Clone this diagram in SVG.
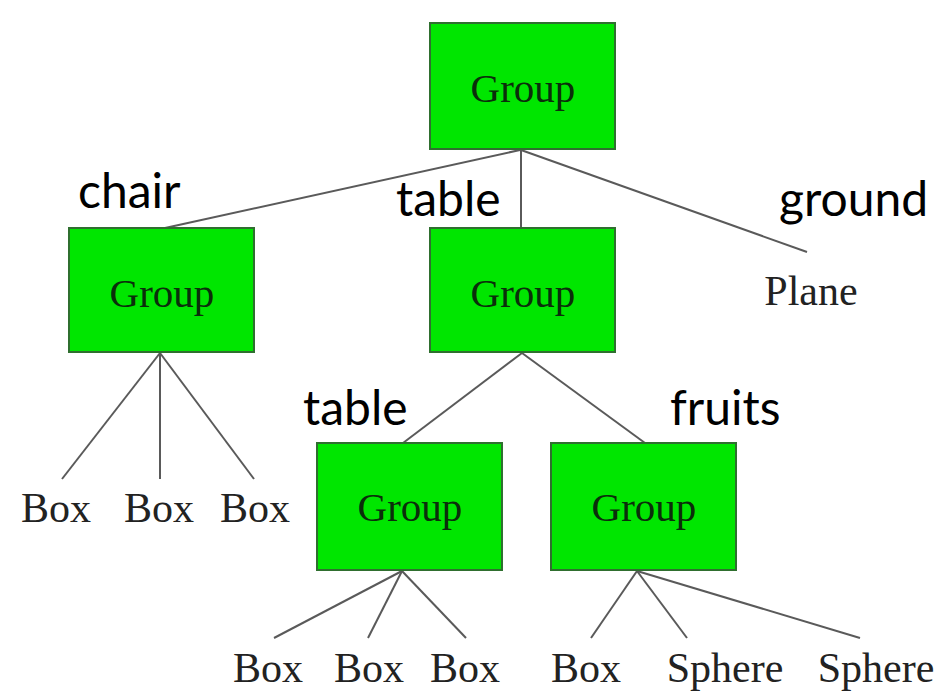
<svg xmlns="http://www.w3.org/2000/svg" width="950" height="694" viewBox="0 0 950 694">
<style>
.box{fill:#00e600;stroke:#2f6f2f;stroke-width:2}
.gt{font-family:"Liberation Serif",serif;font-size:41px;fill:#0b2e0b;text-anchor:middle}
.lt{font-family:"Liberation Serif",serif;font-size:42px;fill:#222;text-anchor:middle}
.lab{font-family:Lato,"Liberation Sans",sans-serif;font-size:48px;fill:#000}
.ln{stroke:#5a5a5a;stroke-width:2;fill:none}
</style>
<rect width="950" height="694" fill="#fff"/>
<g id="connectors">
<line class="ln" x1="520" y1="150" x2="165" y2="228"/>
<line class="ln" x1="521" y1="150" x2="521" y2="228"/>
<line class="ln" x1="521" y1="150" x2="807" y2="252"/>
<line class="ln" x1="160" y1="353" x2="62" y2="479"/>
<line class="ln" x1="160" y1="353" x2="160" y2="479"/>
<line class="ln" x1="160" y1="353" x2="254" y2="479"/>
<line class="ln" x1="522" y1="353" x2="403" y2="443"/>
<line class="ln" x1="522" y1="353" x2="645" y2="443"/>
<line class="ln" x1="402" y1="571" x2="274" y2="638"/>
<line class="ln" x1="402" y1="571" x2="368" y2="638"/>
<line class="ln" x1="402" y1="571" x2="466" y2="638"/>
<line class="ln" x1="637" y1="571" x2="591" y2="638"/>
<line class="ln" x1="637" y1="571" x2="687" y2="638"/>
<line class="ln" x1="637" y1="571" x2="860" y2="638"/>
</g>
<g id="root"><rect class="box" x="430" y="23" width="185" height="126"/><text class="gt" x="523" y="102">Group</text></g>
<g id="chair"><rect class="box" x="69" y="228" width="185" height="124"/><text class="gt" x="162" y="307">Group</text></g>
<g id="table"><rect class="box" x="430" y="228" width="185" height="124"/><text class="gt" x="523" y="307">Group</text></g>
<g id="plane"><text class="lt" x="811" y="305">Plane</text></g>
<g id="table2"><rect class="box" x="317" y="443" width="185" height="127"/><text class="gt" x="410" y="521">Group</text></g>
<g id="fruits"><rect class="box" x="551" y="443" width="185" height="127"/><text class="gt" x="644" y="521">Group</text></g>
<g id="chair-leaves">
<text class="lt" x="56" y="522">Box</text>
<text class="lt" x="159" y="522">Box</text>
<text class="lt" x="255" y="522">Box</text>
</g>
<g id="table-leaves">
<text class="lt" x="268" y="682">Box</text>
<text class="lt" x="369" y="682">Box</text>
<text class="lt" x="465" y="682">Box</text>
</g>
<g id="fruit-leaves">
<text class="lt" x="586" y="682">Box</text>
<text class="lt" x="725" y="682">Sphere</text>
<text class="lt" x="876" y="682">Sphere</text>
</g>
<g id="labels">
<text class="lab" x="78" y="208">chair</text>
<text class="lab" x="396" y="216">table</text>
<text class="lab" x="779" y="216">ground</text>
<text class="lab" x="303" y="425">table</text>
<text class="lab" x="670" y="425">fruits</text>
</g>
</svg>
